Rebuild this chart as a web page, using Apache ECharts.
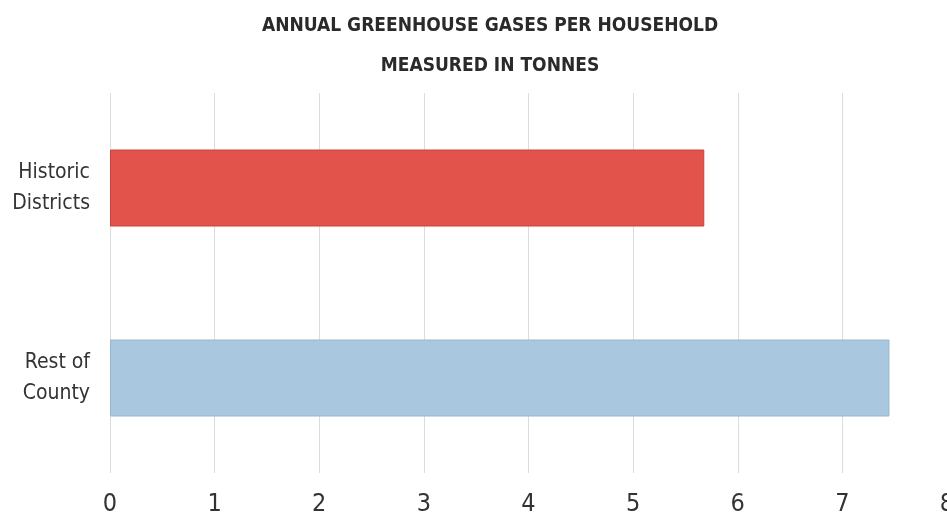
<!DOCTYPE html>
<html>
<head>
<meta charset="utf-8">
<script src="https://cdn.jsdelivr.net/npm/echarts@6/dist/echarts.min.js"></script>
<style>
  html, body { margin: 0; padding: 0; background: #fff; }
  #chart { width: 947px; height: 516px; }
</style>
</head>
<body>
<div id="chart"></div>
<script>
// 数据
var categories = ['Historic\nDistricts', 'Rest of\nCounty'];
var values = [5.68, 7.45];
var barColors = ['#e2544b', '#a9c8e0'];
var titleLines = ['ANNUAL GREENHOUSE GASES PER HOUSEHOLD', 'MEASURED IN TONNES'];

var FONT = '"Liberation Sans Narrow", "DejaVu Sans Condensed", sans-serif';

var myChart = echarts.init(document.getElementById('chart'));

var option = {
    animation: false,
    title: {
        text: titleLines.join('\n'),
        left: 485,
        textAlign: 'center',
        top: 1,
        textStyle: {
            fontFamily: FONT,
            fontSize: 19,
            fontWeight: 'bold',
            color: '#2a2a2a',
            lineHeight: 40
        }
    },
    grid: {
        left: 110,
        right: 0,
        top: 93,
        bottom: 43,
        outerBoundsMode: 'none',
        containLabel: false
    },
    xAxis: {
        type: 'value',
        min: 0,
        max: 8,
        interval: 1,
        axisLine: { show: false },
        axisTick: { show: false },
        splitLine: { show: true, lineStyle: { color: '#dcdcdc', width: 1 } },
        axisLabel: {
            margin: 19,
            fontFamily: FONT,
            fontSize: 25,
            color: '#333',
            showMaxLabel: true
        }
    },
    yAxis: {
        type: 'category',
        inverse: true,
        data: categories,
        axisLine: { show: false },
        axisTick: { show: false },
        axisLabel: {
            margin: 20,
            fontFamily: FONT,
            fontSize: 21,
            lineHeight: 31,
            color: '#333',
            align: 'right'
        }
    },
    series: [{
        type: 'bar',
        barWidth: 77,
        data: values.map(function (v, i) {
            return {
                value: v,
                itemStyle: {
                    color: barColors[i],
                    borderColor: i === 0 ? '#c9433b' : '#97b6ce',
                    borderWidth: 1
                }
            };
        })
    }]
};

myChart.setOption(option);
</script>
</body>
</html>
